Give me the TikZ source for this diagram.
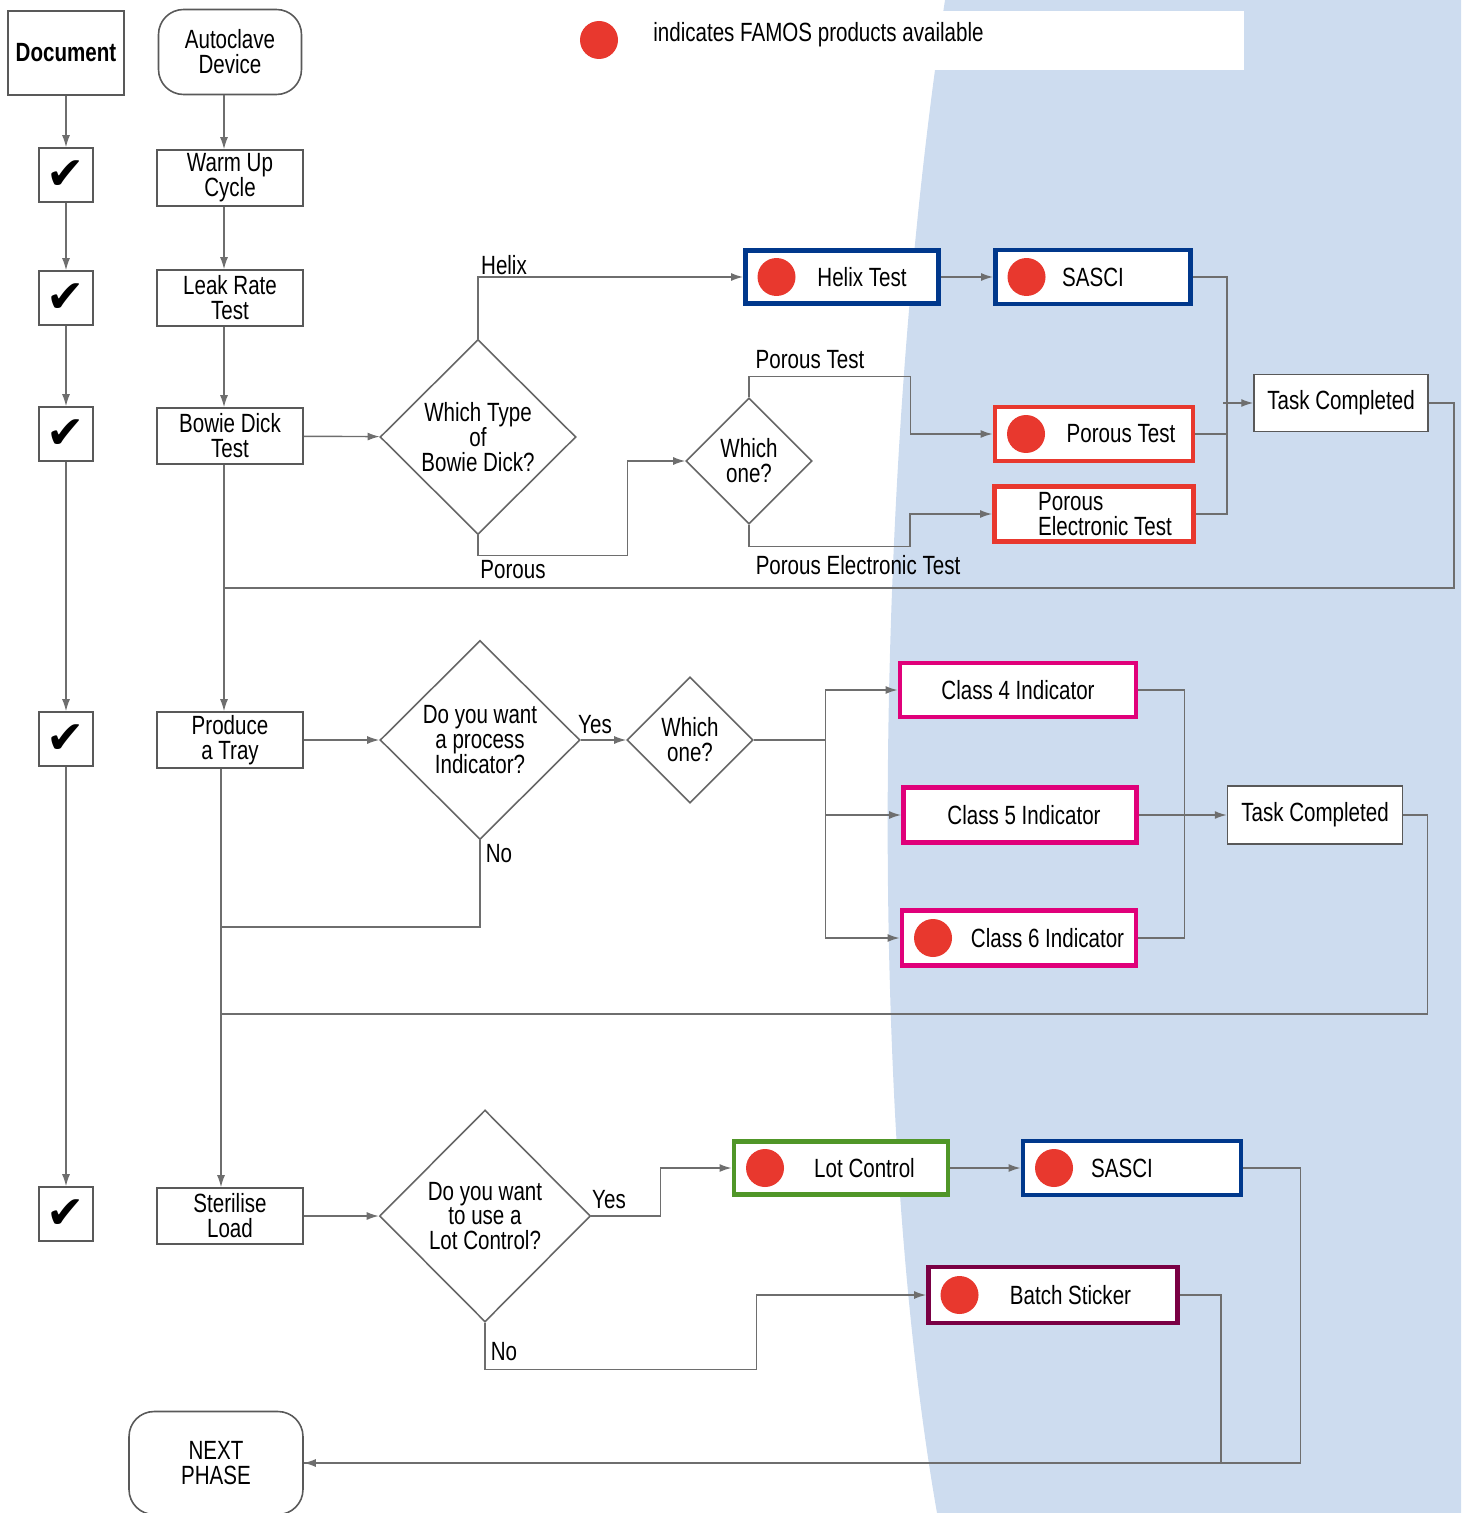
\documentclass[tikz,border=0pt]{standalone}
\usepackage{fontspec}
\setmainfont{Liberation Sans}[FakeStretch=0.78]
\newfontfamily\symfont{DejaVu Sans}
\usetikzlibrary{calc}
\usetikzlibrary{arrows.meta}
\usetikzlibrary{shapes.geometric}

\definecolor{bgblue}{RGB}{205,220,239}
\definecolor{famosred}{RGB}{232,56,46}
\definecolor{famosblue}{RGB}{0,56,140}
\definecolor{famospink}{RGB}{224,0,122}
\definecolor{famosgreen}{RGB}{80,150,40}
\definecolor{famosplum}{RGB}{122,0,68}
\definecolor{wiregray}{RGB}{110,110,110}

\newcommand{\donemark}{{\symfont\fontsize{26pt}{26pt}\selectfont ✔}}

\begin{document}
\begin{tikzpicture}
        [
        x=0.02cm, y=-0.02cm,
        every node/.style={font=\fontsize{15pt}{14.2pt}\selectfont,align=center,inner sep=0pt},
        plain/.style={draw=black!65,line width=0.9pt,fill=white},
        task/.style={plain,minimum width=2.92cm,minimum height=1.12cm},
        tickbox/.style={plain,minimum size=1.08cm},
        rounded/.style={plain,rounded corners=0.5cm},
        decision/.style={diamond,draw=black!60,line width=0.9pt,fill=white},
        famos/.style={line width=2.8pt,fill=white},
        dot/.style={path picture={\fill[famosred] ([xshift=0.62cm]path picture bounding box.west) circle (0.38cm);}},
        wire/.style={draw=wiregray,line width=0.8pt},
        >={Latex[length=2.4mm,width=1.6mm]}
        ]
        \useasboundingbox (0,0) rectangle (1461,1513);

        % background and legend
        \fill[bgblue] (945,0) -- (1461,0) -- (1461,1513) -- (937,1513) .. controls (868,1120) and (872,480) .. (945,0);
        \fill[white] (560,11) rectangle (1244,70);
        \node[circle,fill=famosred,minimum size=0.76cm] (legdot) at (599,40) {};
        \node[anchor=west] (legend) at (653,35) {indicates FAMOS products available};

        % left column
        \node[plain,minimum width=2.32cm,minimum height=1.68cm] (doc) at (66,53) {\bfseries Document};
        \node[tickbox] (chkA) at (66,175) {\donemark};
        \node[tickbox] (chkB) at (66,298) {\donemark};
        \node[tickbox] (chkC) at (66,434) {\donemark};
        \node[tickbox] (chkD) at (66,739) {\donemark};
        \node[tickbox] (chkE) at (66,1214) {\donemark};

        % process column
        \coordinate (spine) at (224,0);
        \coordinate (spineB) at (221,0);
        \node[rounded,minimum width=2.86cm,minimum height=1.7cm] (auto) at (230,52) {Autoclave\\Device};
        \node[task] (warm) at (230,178) {Warm Up\\Cycle};
        \node[task] (leak) at (230,298) {Leak Rate\\Test};
        \node[task] (bowie) at (230,436) {Bowie Dick\\Test};
        \node[task] (tray) at (230,740) {Produce\\a Tray};
        \node[task] (load) at (230,1216) {Sterilise\\Load};
        \node[rounded,minimum width=3.48cm,minimum height=2.06cm] (next) at (216,1463) {NEXT\\PHASE};

        % decisions
        \node[decision,minimum width=3.92cm,minimum height=3.9cm] (typeq) at (478,437) {Which Type\\of\\Bowie Dick?};
        \node[decision,minimum size=2.52cm] (whichA) at (749,461) {Which\\one?};
        \node[decision,minimum width=4cm,minimum height=3.98cm] (procq) at (480,740) {Do you want\\a process\\Indicator?};
        \node[decision,minimum size=2.52cm] (whichB) at (690,740) {Which\\one?};
        \node[decision,minimum width=4.22cm,minimum height=4.24cm] (lotq) at (485,1216) {Do you want\\to use a\\Lot Control?};

        % products
        \node[famos,draw=famosblue,dot,minimum width=3.86cm,minimum height=1.06cm] (helix) at (842,277) {\hspace*{0.8cm}Helix Test};
        \node[famos,draw=famosblue,dot,minimum width=3.9cm,minimum height=1.08cm] (sasciA) at (1093,277) {SASCI};
        \node[famos,draw=famosred,dot,minimum width=3.96cm,minimum height=1.08cm] (porous) at (1094,434) {\hspace*{1.08cm}Porous Test};
        \node[famos,draw=famosred,minimum width=3.98cm,minimum height=1.1cm,align=left] (porouse) at (1094,514) {\hspace*{0.44cm}Porous\\\hspace*{0.44cm}Electronic Test};
        \node[plain,minimum width=3.48cm,minimum height=1.14cm] (doneA) at (1341,403) {Task Completed};

        \node[famos,draw=famospink,minimum width=4.72cm,minimum height=1.08cm] (cfour) at (1018,690) {Class 4 Indicator};
        \node[famos,draw=famospink,minimum width=4.66cm,minimum height=1.1cm] (cfive) at (1020,815) {\hspace*{0.16cm}Class 5 Indicator};
        \node[famos,draw=famospink,dot,minimum width=4.68cm,minimum height=1.1cm] (csix) at (1019,938) {\hspace*{1.14cm}Class 6 Indicator};
        \node[plain,minimum width=3.5cm,minimum height=1.16cm] (doneB) at (1315,815) {Task Completed};

        \node[famos,draw=famosgreen,dot,minimum width=4.28cm,minimum height=1.06cm] (lot) at (841,1168) {\hspace*{0.94cm}Lot Control};
        \node[famos,draw=famosblue,dot,minimum width=4.36cm,minimum height=1.08cm] (sasciB) at (1132,1168) {SASCI\hspace*{0.4cm}};
        \node[famos,draw=famosplum,dot,minimum width=4.98cm,minimum height=1.12cm] (batch) at (1053,1295) {\hspace*{0.7cm}Batch Sticker};

        % branch labels
        \node (lhelix) at (504,265) {Helix};
        \node (lporous) at (513,570) {Porous};
        \node (lptest) at (810,360) {Porous Test};
        \node (lpetest) at (858,565) {Porous Electronic Test};
        \node (lyesA) at (595,725) {Yes};
        \node (lnoA) at (499,854) {No};
        \node (lyesB) at (609,1200) {Yes};
        \node (lnoB) at (504,1352) {No};

        \coordinate (joinA) at (224,588);
        \coordinate (joinB) at (221,927);
        \coordinate (joinC) at (221,1014);

        \begin{scope}[wire]
        \draw[->] (doc) -- (chkA);
        \draw[->] (chkA) -- (chkB);
        \draw[->] (chkB) -- (chkC);
        \draw[->] (chkC) -- (chkD);
        \draw[->] (chkD) -- (chkE);

        \draw[->] (auto.south -| spine) -- (warm.north -| spine);
        \draw[->] (warm.south -| spine) -- (leak.north -| spine);
        \draw[->] (leak.south -| spine) -- (bowie.north -| spine);
        \draw[->] (bowie.south -| spine) -- (tray.north -| spine);
        \draw[->] (tray.south -| spineB) -- (load.north -| spineB);

        \draw[->] (bowie) -- (typeq);
        \draw[->] (typeq.north) |- (helix.west);
        \draw[->] (typeq.south) -- ++(0,20) -| ([xshift=-1.16cm]whichA.west) -- (whichA.west);
        \draw[->] (whichA.north) -- ++(0,-21) -| ([xshift=-1.64cm]porous.west) -- (porous.west);
        \draw[->] (whichA.south) -- ++(0,22) -| ([xshift=-1.64cm]porouse.west) -- (porouse.west);
        \draw[->] (helix) -- (sasciA);
        \draw (sasciA.east) -| ([xshift=0.62cm]porouse.east) -- (porouse.east);
        \draw (porous.east) -- ++(31,0);
        \draw[->] ([xshift=-0.6cm]doneA.west) -- (doneA.west);
        \draw (doneA.east) -- ++(25,0) |- (joinA);

        \draw[->] (tray) -- (procq);
        \draw[->] (procq) -- (whichB);
        \draw (procq.south) |- (joinB);
        \draw[->] (whichB.east) -- ++(72,0) coordinate (busB) |- (cfour.west);
        \draw[->] (busB) |- (csix.west);
        \draw[->] (busB |- cfive.west) -- (cfive.west);
        \draw (cfour.east) -- ++(46,0) |- (csix.east);
        \draw[->] (cfive) -- (doneB);
        \draw (doneB.east) -- ++(24,0) |- (joinC);

        \draw[->] (load) -- (lotq);
        \draw[->] (lotq.east) -- ++(69,0) |- (lot.west);
        \draw[->] (lotq.south) -- ++(0,47) -| ([xshift=-3.39cm]batch.west) -- (batch.west);
        \draw[->] (lot) -- (sasciB);
        \draw[->] (sasciB.east) -- ++(57,0) |- (next.east);
        \draw (batch.east) -- ++(41,0) |- (next.east);
        \end{scope}
    \end{tikzpicture}
\end{document}
